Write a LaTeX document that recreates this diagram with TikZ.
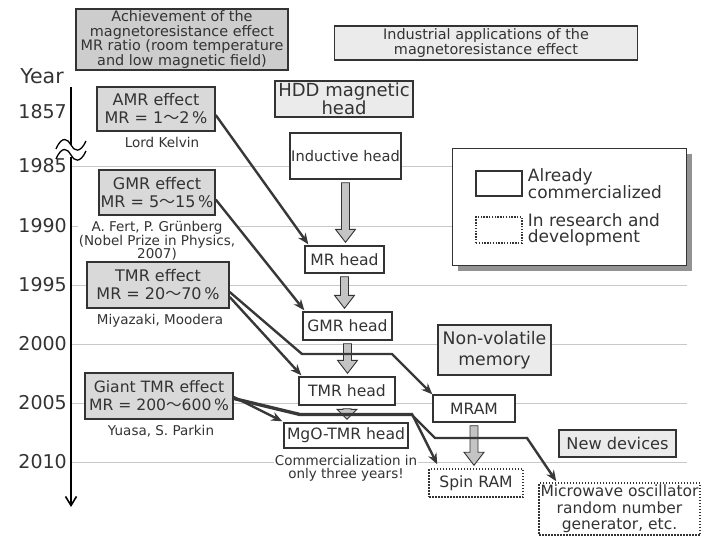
\documentclass[tikz,border=0pt]{standalone}
\usepackage{fontspec}
\setmainfont{DejaVu Sans}
\newfontfamily\cjk{Noto Sans CJK JP}
\usepackage{xcolor}
\usetikzlibrary{arrows.meta, positioning, calc, shadows}

\definecolor{ink}{HTML}{333333}
\definecolor{boxgray}{HTML}{D9D9D9}
\definecolor{hdrgray}{HTML}{CDCDCD}
\definecolor{pale}{HTML}{EBEBEB}
\definecolor{gridc}{HTML}{C8C8C8}
\definecolor{linkc}{HTML}{383838}
\definecolor{blockc}{HTML}{C4C4C4}

\newcommand{\wave}{{\cjk ～}}
% thick gray arrow from one box down to the next
\newcommand{\blockarr}[3][13]{%
  \path (#2.south) ++(0,3) coordinate (ba-s) (#2.south |- #3.north) ++(0,-3) coordinate (ba-t);
  \draw[blockarrow] ($(ba-s)+(-4,0)$) -- ($(ba-t)+(-4,-#1)$) -- ($(ba-t)+(-10,-#1)$) -- (ba-t)
    -- ($(ba-t)+(10,-#1)$) -- ($(ba-t)+(4,-#1)$) -- ($(ba-s)+(4,0)$) -- cycle;}

\begin{document}
\begin{tikzpicture}[
  x=1pt, y=-1pt,
  every node/.style={text=ink, inner sep=0pt},
  effect/.style={draw=ink, line width=1.4pt, fill=boxgray, align=center, font=\fontsize{16}{18}\selectfont},
  header/.style={draw=ink, line width=1.2pt, align=center, font=\fontsize{14.4}{14.5}\selectfont},
  tag/.style={draw=ink, line width=1.2pt, fill=pale, align=center},
  head/.style={draw=ink, line width=1.4pt, fill=white, align=center, font=\fontsize{15.6}{17}\selectfont},
  rnd/.style={head, line width=1.5pt, dash pattern=on 1.5pt off 1.5pt},
  note/.style={fill=white, inner sep=1pt, align=center, font=\fontsize{13.5}{13.5}\selectfont},
  yearlbl/.style={anchor=east, font=\fontsize{19}{19}\selectfont},
  gridline/.style={draw=gridc, line width=0.9pt},
  link/.style={draw=linkc, line width=2.4pt, -{Stealth[length=11pt, width=9pt]}},
  blockarrow/.style={draw=ink, line width=0.9pt, fill=blockc},
  ]
  \useasboundingbox (0,0) rectangle (701,536);

  % Time axis and year grid
  \node[yearlbl] (y1857) at (67,112) {1857};
  \foreach \yr/\yy in {1985/166, 1990/226, 1995/285, 2000/344, 2005/403, 2010/462} {
    \draw[gridline] (71,\yy) -- (687,\yy);
    \node[yearlbl] (y\yr) at (67,\yy) {\yr};
  }
  \node[font=\fontsize{20.5}{20}\selectfont] (year) at (42,76) {Year};
  \coordinate (axtop) at (71,87);
  \coordinate (axend) at (71,507);
  \draw[line width=1.6pt, -{Straight Barb[length=9pt, width=11pt]}] (axtop) -- (axend);

  % Axis break
  \fill[white] (67,145) rectangle (75,157);
  \draw[line width=1.3pt] (56,149) .. controls (62,135) and (68,139) .. (71,145) .. controls (74,151) and (80,154) .. (86,141);
  \draw[line width=1.3pt] (56,159) .. controls (62,145) and (68,149) .. (71,155) .. controls (74,161) and (80,164) .. (86,151);

  % Column headers
  \node[header, fill=hdrgray, minimum width=212pt, minimum height=61pt] (hdrL) at (182,39.5)
    {Achievement of the\\magnetoresistance effect\\MR ratio (room temperature\\and low magnetic field)};
  \node[header, fill=pale, minimum width=303pt, minimum height=34pt] (hdrR) at (486,43)
    {Industrial applications of the\\magnetoresistance effect};

  % Effects and their discoverers
  \node[effect, minimum width=118pt, minimum height=44pt] (amr) at (156,109) {AMR effect\\MR = 1\wave2\,\%};
  \node[effect, minimum width=116pt, minimum height=45pt] (gmr) at (157,192.5) {GMR effect\\MR = 5\wave15\,\%};
  \node[effect, minimum width=142pt, minimum height=46pt] (tmr) at (158,285) {TMR effect\\MR = 20\wave70\,\%};
  \node[effect, minimum width=148pt, minimum height=46pt, font=\fontsize{15.6}{18}\selectfont] (gtmr) at (159,396) {Giant TMR effect\\MR = 200\wave600\,\%};

  \node[note, below=4.5pt of amr, xshift=6pt] (kelvin) {Lord Kelvin};
  \node[note, below=4.5pt of gmr] (fert) {A. Fert, P. Grünberg\\(Nobel Prize in Physics,\\2007)};
  \node[note, below=4.5pt of tmr, xshift=2pt] (miyazaki) {Miyazaki, Moodera};
  \node[note, below=4.5pt of gtmr, xshift=2pt] (yuasa) {Yuasa, S. Parkin};

  % HDD heads
  \node[tag, font=\fontsize{18}{16}\selectfont, minimum width=138pt, minimum height=36pt] (hdd) at (344,99) {HDD magnetic\\head};
  \node[head, font=\fontsize{14.6}{16}\selectfont, minimum width=111pt, minimum height=46pt] (ind) at (345.5,156) {Inductive head};
  \node[head, minimum width=79pt, minimum height=27pt] (mrh) at (344.5,259.5) {MR head};
  \node[head, minimum width=89pt, minimum height=28pt] (gmrh) at (347.5,326) {GMR head};
  \node[head, minimum width=96pt, minimum height=28pt] (tmrh) at (347,391) {TMR head};
  \node[head, minimum width=124pt, minimum height=25pt] (mgoh) at (346,435.5) {MgO-TMR head};
  \node[note, below=5pt of mgoh] (fast) {Commercialization in\\only three years!};

  % Memory and new devices
  \node[tag, font=\fontsize{17.3}{21}\selectfont, minimum width=113pt, minimum height=50pt] (nvm) at (494.5,350) {Non-volatile\\memory};
  \node[head, minimum width=82pt, minimum height=27pt] (mram) at (474,408.5) {MRAM};
  \node[rnd, minimum width=94pt, minimum height=28pt] (spin) at (476,483) {Spin RAM};
  \node[tag, font=\fontsize{16.2}{17}\selectfont, minimum width=117pt, minimum height=27pt] (newdev) at (617.5,443.5) {New devices};
  \node[rnd, font=\fontsize{15.5}{16.5}\selectfont, minimum width=161pt, minimum height=52pt] (micro) at (619.5,509)
    {Microwave oscillator\\random number\\generator, etc.};

  % Legend
  \node[draw=ink, line width=1pt, fill=white, minimum width=234pt, minimum height=117pt,
    drop shadow={shadow xshift=6pt, shadow yshift=-6pt, fill=gray!85, opacity=1}] (legend) at (569,206.5) {};
  \node[draw=ink, line width=1.4pt, minimum width=46pt, minimum height=25pt] (swdone) at (499,183.5) {};
  \node[draw=ink, line width=1.4pt, dash pattern=on 1.4pt off 1.4pt, minimum width=46pt, minimum height=26pt] (swrnd) at (499,230) {};
  \node[right=5pt of swdone, align=left, font=\fontsize{17}{16.5}\selectfont] (txdone) {Already\\commercialized};
  \node[right=5pt of swrnd, align=left, font=\fontsize{17}{16.5}\selectfont] (txrnd) {In research and\\development};

  % Head generations
  \blockarr{ind}{mrh}
  \blockarr{mrh}{gmrh}
  \blockarr{gmrh}{tmrh}
  \blockarr[10]{tmrh}{mgoh}
  \blockarr{mram}{spin}

  % From effects to applications
  \draw[link] ($(amr.east)+(0,6)$) -- ($(mrh.north west)+(4,-1)$);
  \draw[link] ($(gmr.east)+(0,7)$) -- ($(gmrh.north west)+(2,-1)$);
  \draw[link] ($(tmr.east)+(0,12)$) -- ($(tmrh.north west)+(3,-1)$);
  \draw[link] ($(tmr.east)+(0,7)$) -- (302,354) -- (392,354) -- (mram.north west);
  \draw[link] ($(gtmr.east)+(0,1)$) -- ($(mgoh.north west)+(-1,-1)$);
  \draw[link] ($(gtmr.east)+(0,2)$) -- (300,414) -- (412,414) -- ($(spin.north west)+(9,-4)$);
  \draw[link] ($(gtmr.east)+(0,3)$) -- (300,415) -- (412,415) -- (435,438) -- (527,438) -- ($(micro.north west)+(18,-1)$);

\end{tikzpicture}
\end{document}
